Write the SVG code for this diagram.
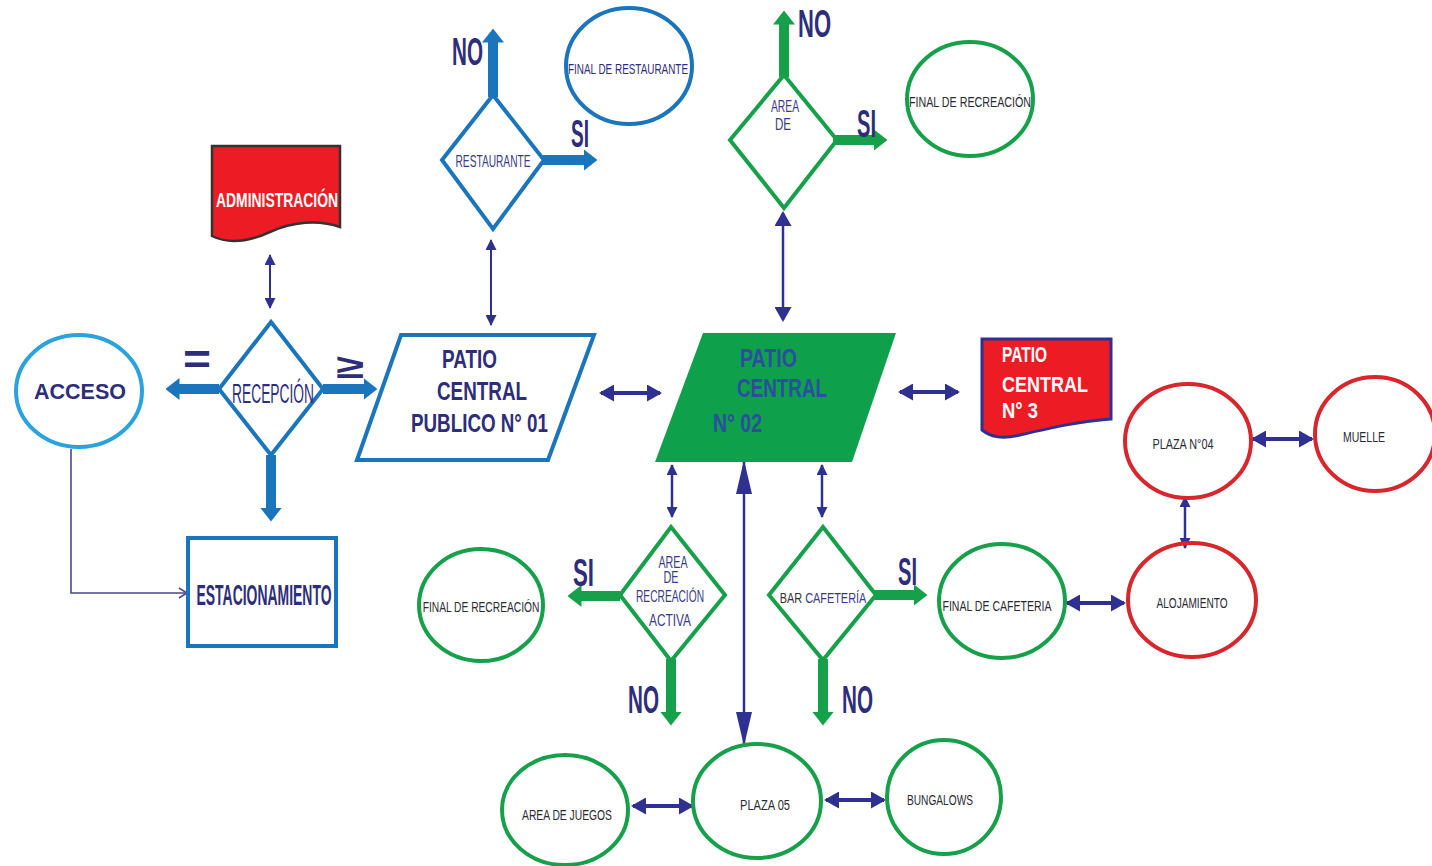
<svg xmlns="http://www.w3.org/2000/svg" width="1432" height="866" viewBox="0 0 1432 866">
<style>
text{font-family:"Liberation Sans",Arial,sans-serif}
.bl{fill:none;stroke:#1b75bc;stroke-width:4}
.gr{fill:none;stroke:#16a04a;stroke-width:4}
.rd{fill:none;stroke:#d7262c;stroke-width:4}
.nv{fill:#2e2d7a}
.dk{fill:#2a2a33}
.wt{fill:#fff;font-weight:bold}
.b{font-weight:bold}
.tk{stroke-width:10;fill:none}
.tkb{stroke:#1b75bc}
.tkg{stroke:#16a04a}
.th{stroke:#2e3192;fill:none}
.c{text-anchor:middle}
</style>
<defs>
<marker id="hb" viewBox="0 0 14 22" markerUnits="userSpaceOnUse" markerWidth="14" markerHeight="22" refX="0.5" refY="11" orient="auto"><path d="M0,0 L14,11 L0,22 z" fill="#1b75bc"/></marker>
<marker id="hg" viewBox="0 0 14 22" markerUnits="userSpaceOnUse" markerWidth="14" markerHeight="22" refX="0.5" refY="11" orient="auto"><path d="M0,0 L14,11 L0,22 z" fill="#16a04a"/></marker>
<marker id="m" viewBox="0 0 15 17" markerUnits="userSpaceOnUse" markerWidth="15" markerHeight="17" refX="13" refY="8.5" orient="auto-start-reverse"><path d="M0,0 L15,8.5 L0,17 z" fill="#2e3192"/></marker>
<marker id="s" viewBox="0 0 11 11" markerUnits="userSpaceOnUse" markerWidth="11" markerHeight="11" refX="10" refY="5.5" orient="auto-start-reverse"><path d="M0,0 L11,5.5 L0,11 z" fill="#2e3192"/></marker>
<marker id="bg" viewBox="0 0 34 16" markerUnits="userSpaceOnUse" markerWidth="34" markerHeight="16" refX="32" refY="8" orient="auto-start-reverse"><path d="M0,0 L34,8 L0,16 z" fill="#2e3192"/></marker>
<marker id="op" viewBox="0 0 10 12" markerUnits="userSpaceOnUse" markerWidth="10" markerHeight="12" refX="9" refY="6" orient="auto"><path d="M1,1 L9,6 L1,11" fill="none" stroke="#4a4a86" stroke-width="1.6"/></marker>
</defs>

<g id="connectors">
<line class="tk tkb" x1="219" y1="389" x2="179" y2="389" marker-end="url(#hb)"/>
<line class="tk tkb" x1="323" y1="389" x2="364" y2="389" marker-end="url(#hb)"/>
<line class="tk tkb" x1="271" y1="455" x2="271" y2="508" marker-end="url(#hb)"/>
<line class="tk tkb" x1="493" y1="97" x2="493" y2="42" marker-end="url(#hb)"/>
<line class="tk tkb" x1="543" y1="160" x2="584" y2="160" marker-end="url(#hb)"/>
<line class="tk tkg" x1="784" y1="77" x2="784" y2="24" marker-end="url(#hg)"/>
<line class="tk tkg" x1="833" y1="140" x2="874" y2="140" marker-end="url(#hg)"/>
<line class="tk tkg" x1="620" y1="596" x2="581" y2="596" marker-end="url(#hg)"/>
<line class="tk tkg" x1="671" y1="659" x2="671" y2="712" marker-end="url(#hg)"/>
<line class="tk tkg" x1="875" y1="595" x2="914" y2="595" marker-end="url(#hg)"/>
<line class="tk tkg" x1="823" y1="659" x2="823" y2="712" marker-end="url(#hg)"/>
<line class="th" stroke-width="2" x1="270" y1="255" x2="270" y2="308" marker-start="url(#s)" marker-end="url(#s)"/>
<line class="th" stroke-width="2" x1="491" y1="240" x2="491" y2="325" marker-start="url(#s)" marker-end="url(#s)"/>
<line class="th" stroke-width="4" x1="601" y1="393" x2="660" y2="393" marker-start="url(#m)" marker-end="url(#m)"/>
<line class="th" stroke-width="2.5" x1="783" y1="213" x2="783" y2="320" marker-start="url(#m)" marker-end="url(#m)"/>
<line class="th" stroke-width="4" x1="900" y1="392" x2="958" y2="392" marker-start="url(#m)" marker-end="url(#m)"/>
<line class="th" stroke-width="2.5" x1="672" y1="465" x2="672" y2="517" marker-start="url(#s)" marker-end="url(#s)"/>
<line class="th" stroke-width="2.5" x1="822" y1="465" x2="822" y2="517" marker-start="url(#s)" marker-end="url(#s)"/>
<line class="th" stroke-width="2.5" x1="744" y1="462" x2="744" y2="744" marker-start="url(#bg)" marker-end="url(#bg)"/>
<line class="th" stroke-width="4" x1="1067" y1="603" x2="1124" y2="603" marker-start="url(#m)" marker-end="url(#m)"/>
<line class="th" stroke-width="2.5" x1="1185" y1="497" x2="1185" y2="548" marker-start="url(#s)" marker-end="url(#s)"/>
<line class="th" stroke-width="4" x1="1253" y1="439" x2="1312" y2="439" marker-start="url(#m)" marker-end="url(#m)"/>
<line class="th" stroke-width="4" x1="633" y1="806" x2="692" y2="806" marker-start="url(#m)" marker-end="url(#m)"/>
<line class="th" stroke-width="4" x1="826" y1="800" x2="884" y2="800" marker-start="url(#m)" marker-end="url(#m)"/>
<path d="M71,449 V593 H187" fill="none" stroke="#4a4a86" stroke-width="1.6" marker-end="url(#op)"/>
<text class="nv b" x="197" y="374" font-size="42" text-anchor="middle" textLength="28" lengthAdjust="spacingAndGlyphs">=</text>
<text class="nv b" x="350" y="378" font-size="34" text-anchor="middle" textLength="28" lengthAdjust="spacingAndGlyphs">≥</text>
<text class="nv b" x="452" y="65" font-size="38" textLength="31" lengthAdjust="spacingAndGlyphs">NO</text>
<text class="nv b" x="571" y="147" font-size="38" textLength="18" lengthAdjust="spacingAndGlyphs">SI</text>
<text class="nv b" x="798" y="37" font-size="38" textLength="33" lengthAdjust="spacingAndGlyphs">NO</text>
<text class="nv b" x="857" y="137" font-size="38" textLength="19" lengthAdjust="spacingAndGlyphs">SI</text>
<text class="nv b" x="573" y="586" font-size="38" textLength="21" lengthAdjust="spacingAndGlyphs">SI</text>
<text class="nv b" x="628" y="713" font-size="38" textLength="31" lengthAdjust="spacingAndGlyphs">NO</text>
<text class="nv b" x="898" y="585" font-size="38" textLength="19" lengthAdjust="spacingAndGlyphs">SI</text>
<text class="nv b" x="842" y="713" font-size="38" textLength="31" lengthAdjust="spacingAndGlyphs">NO</text>
</g>

<g id="acceso">
<ellipse cx="79" cy="391" rx="63" ry="56" fill="#fff" stroke="#2aa3dc" stroke-width="4"/>
<text class="nv b c" x="80" y="399" font-size="22" textLength="92" lengthAdjust="spacingAndGlyphs">ACCESO</text>
</g>

<g id="administracion">
<path d="M212,146 H340 V227 C318,219 292,222 270,232 C248,242 228,244 212,236 Z" fill="#ed1c24" stroke="#333" stroke-width="2.5"/>
<text class="wt c" x="277" y="207" font-size="21" textLength="122" lengthAdjust="spacingAndGlyphs">ADMINISTRACIÓN</text>
</g>

<g id="recepcion">
<polygon class="bl" points="271,322 323,389 271,455 219,389" fill="#fff"/>
<text class="nv c" transform="translate(273,403) scale(0.58,1)" x="0" y="0" font-size="28" textLength="141" lengthAdjust="spacingAndGlyphs">RECEPCIÓN</text>
</g>

<g id="estacionamiento">
<rect class="bl" x="188" y="538" width="148" height="108"/>
<text class="nv b c" x="264" y="605" font-size="29" textLength="135" lengthAdjust="spacingAndGlyphs">ESTACIONAMIENTO</text>
</g>

<g id="patio1">
<polygon class="bl" points="401,335 594,335 548,460 357,460"/>
<text class="nv b" x="442" y="368" font-size="26" textLength="55" lengthAdjust="spacingAndGlyphs">PATIO</text>
<text class="nv b" x="437" y="400" font-size="26" textLength="90" lengthAdjust="spacingAndGlyphs">CENTRAL</text>
<text class="nv b" x="411" y="432" font-size="26" textLength="137" lengthAdjust="spacingAndGlyphs">PUBLICO N° 01</text>
</g>

<g id="restaurante">
<polygon class="bl" points="493,95 544,160 493,229 442,160"/>
<text class="c" x="493" y="167" font-size="17" fill="#3a3a8a" textLength="75" lengthAdjust="spacingAndGlyphs">RESTAURANTE</text>
</g>

<g id="final-restaurante">
<ellipse class="bl" cx="629" cy="66" rx="63" ry="58" stroke-width="3"/>
<text class="nv c" x="628" y="74" font-size="15" textLength="120" lengthAdjust="spacingAndGlyphs">FINAL  DE RESTAURANTE</text>
</g>

<g id="area-de">
<polygon class="gr" points="784,75 837,140 784,208 730,140"/>
<text class="c" x="785" y="112" font-size="16" fill="#3a3a8a" textLength="28" lengthAdjust="spacingAndGlyphs">AREA</text>
<text class="c" x="783" y="130" font-size="16" fill="#3a3a8a" textLength="16" lengthAdjust="spacingAndGlyphs">DE</text>
</g>

<g id="final-recreacion-1">
<ellipse class="gr" cx="970" cy="99" rx="63" ry="57" stroke-width="3.5"/>
<text class="dk c" transform="translate(970,107) scale(0.74,1)" x="0" y="0" font-size="15" textLength="165" lengthAdjust="spacingAndGlyphs">FINAL  DE RECREACIÓN</text>
</g>

<g id="patio2">
<polygon points="703,333 896,333 852,462 655,462" fill="#0ea04b"/>
<text class="b" x="740" y="367" font-size="26" fill="#2b4ea0" textLength="57" lengthAdjust="spacingAndGlyphs">PATIO</text>
<text class="b" x="737" y="397" font-size="26" fill="#2b4ea0" textLength="90" lengthAdjust="spacingAndGlyphs">CENTRAL</text>
<text class="b" x="713" y="432" font-size="26" fill="#2b4ea0" textLength="49" lengthAdjust="spacingAndGlyphs">N° 02</text>
</g>

<g id="patio3">
<path d="M982,339 H1111 V419 C1080,421 1050,428 1020,435 C1000,440 990,436 982,430 Z" fill="#ed1c24" stroke="#2e3192" stroke-width="3"/>
<text class="wt" x="1002" y="362" font-size="22" textLength="45" lengthAdjust="spacingAndGlyphs">PATIO</text>
<text class="wt" x="1002" y="392" font-size="22" textLength="86" lengthAdjust="spacingAndGlyphs">CENTRAL</text>
<text class="wt" x="1002" y="418" font-size="22" textLength="36" lengthAdjust="spacingAndGlyphs">N° 3</text>
</g>

<g id="recreacion-activa">
<polygon class="gr" points="671,527 725,595 671,661 620,595"/>
<text class="c" x="673" y="568" font-size="16" fill="#3a3a8a" textLength="29" lengthAdjust="spacingAndGlyphs">AREA</text>
<text class="c" x="671" y="583" font-size="16" fill="#3a3a8a" textLength="15" lengthAdjust="spacingAndGlyphs">DE</text>
<text class="c" x="670" y="602" font-size="16" fill="#3a3a8a" textLength="68" lengthAdjust="spacingAndGlyphs">RECREACIÓN</text>
<text class="c" x="670" y="626" font-size="16" fill="#3a3a8a" textLength="42" lengthAdjust="spacingAndGlyphs">ACTIVA</text>
</g>

<g id="final-recreacion-2">
<ellipse class="gr" cx="481" cy="605" rx="62" ry="56" stroke-width="3.5"/>
<text class="dk c" transform="translate(481,612) scale(0.72,1)" x="0" y="0" font-size="15" textLength="162" lengthAdjust="spacingAndGlyphs">FINAL  DE RECREACIÓN</text>
</g>

<g id="bar-cafeteria">
<polygon class="gr" points="823,527 876,595 823,660 769,595"/>
<text class="c" transform="translate(823,603) scale(0.76,1)" x="0" y="0" font-size="15" textLength="114" lengthAdjust="spacingAndGlyphs"><tspan fill="#333">BAR  </tspan><tspan fill="#3a3a8a">CAFETERÍA</tspan></text>
</g>

<g id="final-cafeteria">
<ellipse class="gr" cx="1002" cy="601" rx="63" ry="57" stroke-width="3.5"/>
<text class="dk c" x="997" y="611" font-size="15" textLength="109" lengthAdjust="spacingAndGlyphs">FINAL  DE CAFETERIA</text>
</g>

<g id="alojamiento">
<ellipse class="rd" cx="1192" cy="600" rx="64" ry="57"/>
<text class="dk c" x="1192" y="608" font-size="15" textLength="71" lengthAdjust="spacingAndGlyphs">ALOJAMIENTO</text>
</g>

<g id="plaza04">
<ellipse class="rd" cx="1188" cy="441" rx="63" ry="57"/>
<text class="dk c" x="1183" y="449" font-size="15" textLength="61" lengthAdjust="spacingAndGlyphs">PLAZA  N°04</text>
</g>

<g id="muelle">
<ellipse class="rd" cx="1375" cy="434" rx="60" ry="57"/>
<text class="dk c" x="1364" y="442" font-size="15" textLength="42" lengthAdjust="spacingAndGlyphs">MUELLE</text>
</g>

<g id="area-juegos">
<ellipse class="gr" cx="565" cy="810" rx="63" ry="55"/>
<text class="dk c" x="567" y="820" font-size="15" textLength="90" lengthAdjust="spacingAndGlyphs">AREA DE JUEGOS</text>
</g>

<g id="plaza05">
<ellipse class="gr" cx="757" cy="801" rx="64" ry="57"/>
<text class="dk c" x="765" y="810" font-size="15" textLength="50" lengthAdjust="spacingAndGlyphs">PLAZA  05</text>
</g>

<g id="bungalows">
<ellipse class="gr" cx="944" cy="797" rx="57" ry="57"/>
<text class="dk c" x="940" y="805" font-size="15" textLength="66" lengthAdjust="spacingAndGlyphs">BUNGALOWS</text>
</g>
</svg>
